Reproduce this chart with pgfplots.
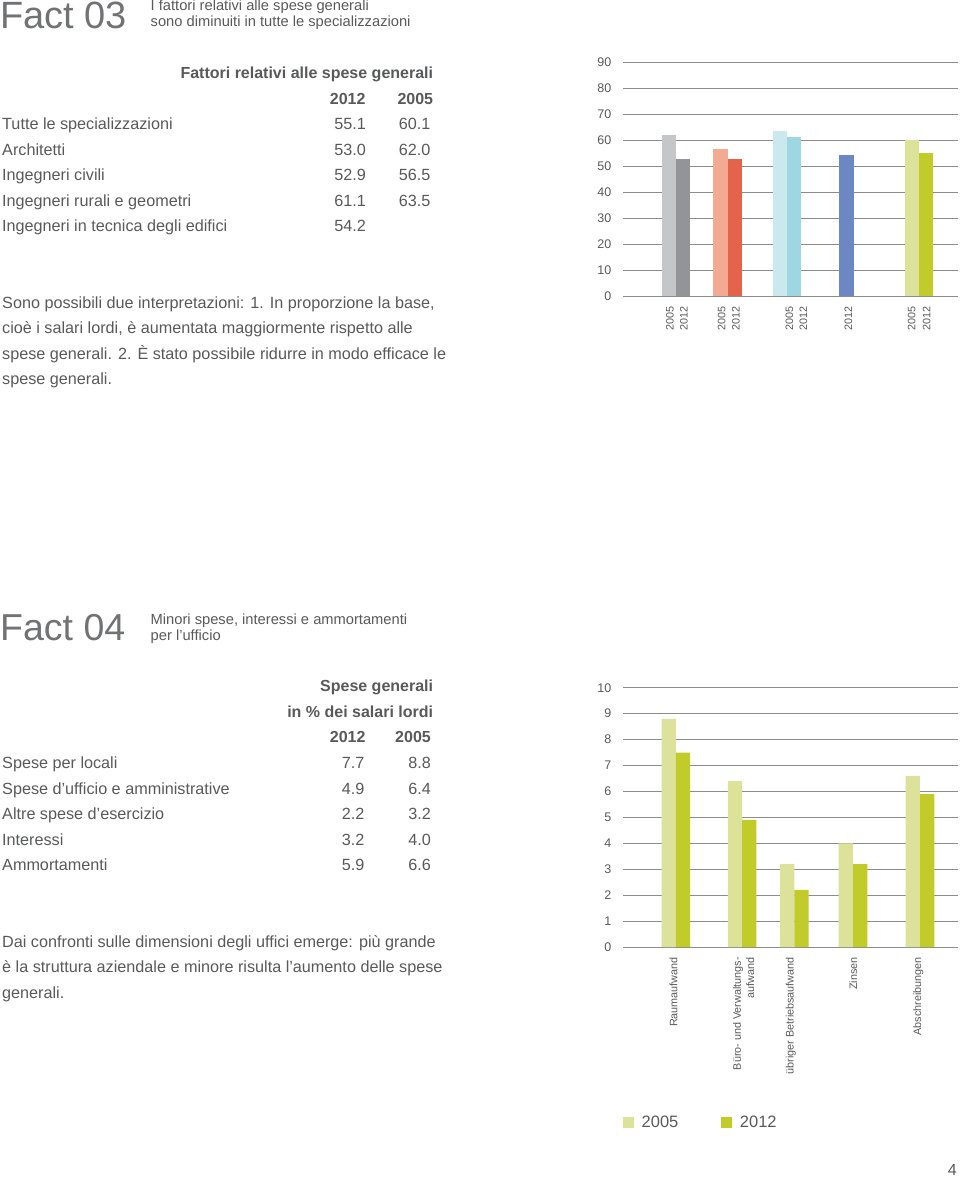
\documentclass[border=0pt]{standalone}
\usepackage{pgfplots}
\pgfplotsset{compat=1.18}
\usepackage{fontspec}
\setmainfont{Liberation Sans}
\definecolor{txt}{HTML}{58595B}
\definecolor{gridc}{HTML}{8C8C8C}
\definecolor{grayL}{HTML}{C5C6C8}
\definecolor{grayD}{HTML}{929497}
\definecolor{salL}{HTML}{F2AA92}
\definecolor{salD}{HTML}{E2654B}
\definecolor{cyaL}{HTML}{C9E9EE}
\definecolor{cyaD}{HTML}{9DD8E2}
\definecolor{blu}{HTML}{6C87C4}
\definecolor{grnL}{HTML}{DDE29A}
\definecolor{grnD}{HTML}{C1CC2B}
\newcommand\fs[2][]{\fontsize{#2}{#2}\selectfont}
\pgfplotsset{
  pagechart/.style={
    scale only axis, enlargelimits=false, clip=false,
    /pgf/number format/assume math mode=true,
    axis line style={draw=none}, major tick style={draw=none},
    ymajorgrids, grid style={draw=gridc, line width=1pt},
    xmin=623, xmax=958, width=335pt,
    yticklabel style={anchor=east, inner sep=0pt, xshift=-11.5pt, font=\fs{12.5}, text=txt},
  }
}
\begin{document}
\begin{tikzpicture}[x=1pt,y=1pt]
\path[use as bounding box] (0,0) rectangle (960,-1177);
\begin{scope}[every node/.style={inner sep=0pt, text=txt}]
% ---------- Fact 03 ----------
\node[anchor=base west, text=txt!85] at (0,-28.3) {\fs{38}Fact 03};
\node[anchor=base west] at (150.5,-11) {\fs{14.7}I fattori relativi alle spese generali};
\node[anchor=base west] at (150.5,-26.5) {\fs{14.7}sono diminuiti in tutte le specializzazioni};
\node[anchor=base east] at (433.3,-79) {\fs{16}\bfseries Fattori relativi alle spese generali};
\node[anchor=base east] at (365.7,-104.3) {\fs{16}\bfseries 2012};
\node[anchor=base east] at (433.3,-104.3) {\fs{16}\bfseries 2005};
\foreach \y/\lab/\a/\b in {130/Tutte le specializzazioni/55.1/60.1,
  155.5/Architetti/53.0/62.0,
  181/Ingegneri civili/52.9/56.5,
  206.4/Ingegneri rurali e geometri/61.1/63.5,
  231.8/Ingegneri in tecnica degli edifici/54.2/{}}{
  \node[anchor=base west] at (2,-\y) {\fs{16.2}\lab};
  \node[anchor=base east] at (366,-\y) {\fs{16.2}\a};
  \node[anchor=base east] at (430.5,-\y) {\fs{16.2}\b};
}
\node[anchor=base west] at (2,-308.3) {\fs{16.2}Sono possibili due interpretazioni: 1. In proporzione la base,};
\node[anchor=base west] at (2,-333.5) {\fs{16.2}cioè i salari lordi, è aumentata maggiormente rispetto alle};
\node[anchor=base west] at (2,-359.2) {\fs{16.2}spese generali. 2. È stato possibile ridurre in modo efficace le};
\node[anchor=base west] at (2,-384.3) {\fs{16.2}spese generali.};
% ---------- Fact 04 ----------
\node[anchor=base west, text=txt!85] at (0,-640.7) {\fs{37.5}Fact 04};
\node[anchor=base west] at (150.5,-624) {\fs{14.7}Minori spese, interessi e ammortamenti};
\node[anchor=base west] at (150.5,-640.5) {\fs{14.7}per l’ufficio};
\node[anchor=base east] at (433.3,-691.7) {\fs{16}\bfseries Spese generali};
\node[anchor=base east] at (433.3,-717.3) {\fs{16}\bfseries in \% dei salari lordi};
\node[anchor=base east] at (365.7,-742.7) {\fs{16}\bfseries 2012};
\node[anchor=base east] at (431,-742.7) {\fs{16}\bfseries 2005};
\foreach \y/\lab/\a/\b in {768.3/Spese per locali/7.7/8.8,
  794/Spese d’ufficio e amministrative/4.9/6.4,
  819.3/Altre spese d’esercizio/2.2/3.2,
  845/Interessi/3.2/4.0,
  870/Ammortamenti/5.9/6.6}{
  \node[anchor=base west] at (2,-\y) {\fs{16.2}\lab};
  \node[anchor=base east] at (364.5,-\y) {\fs{16.2}\a};
  \node[anchor=base east] at (431,-\y) {\fs{16.2}\b};
}
\node[anchor=base west] at (2,-947.3) {\fs{16.2}Dai confronti sulle dimensioni degli uffici emerge: più grande};
\node[anchor=base west] at (2,-972.5) {\fs{16.2}è la struttura aziendale e minore risulta l’aumento delle spese};
\node[anchor=base west] at (2,-998.3) {\fs{16.2}generali.};
\node[anchor=base east] at (957,-1175.5) {\fs{16}4};
\end{scope}

% ---------- Chart Fact 03 ----------
\begin{axis}[pagechart,
  at={(623pt,-296pt)}, anchor=south west,
  ymin=0, ymax=90, height=233.5pt,
  ytick={0,10,...,90},
  xtick={670,684,721.7,736,789.3,803.3,848.3,911.7,926.7},
  xticklabels={2005,2012,2005,2012,2005,2012,2012,2005,2012},
  xticklabel style={rotate=90, anchor=east, inner xsep=10.5pt, inner ysep=0pt, font=\fs{10.8}, text=txt},
]
\addplot[ybar, bar width=14.3, fill=grayL, draw=none] coordinates {(668.8,62.0)};
\addplot[ybar, bar width=14.3, fill=grayD, draw=none] coordinates {(683.1,53.0)};
\addplot[ybar, bar width=14.3, fill=salL, draw=none] coordinates {(720.5,56.5)};
\addplot[ybar, bar width=14.3, fill=salD, draw=none] coordinates {(735.0,52.9)};
\addplot[ybar, bar width=14.3, fill=cyaL, draw=none] coordinates {(779.8,63.5)};
\addplot[ybar, bar width=14.3, fill=cyaD, draw=none] coordinates {(794.2,61.1)};
\addplot[ybar, bar width=14.3, fill=blu, draw=none] coordinates {(846.5,54.2)};
\addplot[ybar, bar width=14.3, fill=grnL, draw=none] coordinates {(911.7,60.1)};
\addplot[ybar, bar width=14.3, fill=grnD, draw=none] coordinates {(926.1,55.1)};
\end{axis}

% ---------- Chart Fact 04 ----------
\begin{axis}[pagechart,
  at={(623pt,-947pt)}, anchor=south west,
  ymin=0, ymax=10, height=259.3pt,
  ytick={0,1,...,10},
  xtick={673.5,743.7,790.8,853.3,918.3},
  xticklabels={Raumaufwand,{Büro- und Verwaltungs-\\aufwand},übriger Betriebsaufwand,Zinsen,Abschreibungen},
  xticklabel style={rotate=90, anchor=east, align=right, inner xsep=10pt, inner ysep=0pt, font=\fontsize{10.8}{13.3}\selectfont, text=txt},
  legend columns=2,
  legend cell align=left,
  legend image code/.code={\fill[#1,draw=none] (0pt,-5.5pt) rectangle (11pt,5.5pt);},
  legend style={draw=none, fill=none, at={(0,-0.678)}, anchor=west, inner sep=0pt,
    font=\fs{16.5}, text=txt,
    /tikz/every odd column/.append style={column sep=5.5pt},
    /tikz/every even column/.append style={column sep=41pt}},
]
\addplot[ybar, bar width=14.3, fill=grnL, draw=none] coordinates {(668.8,8.8) (734.9,6.4) (787.2,3.2) (845.8,4.0) (912.8,6.6)};
\addlegendentry{2005}
\addplot[ybar, bar width=14.3, fill=grnD, draw=none] coordinates {(683.0,7.5) (749.2,4.9) (801.5,2.2) (860.2,3.2) (927.2,5.9)};
\addlegendentry{2012}
\end{axis}
\end{tikzpicture}
\end{document}
